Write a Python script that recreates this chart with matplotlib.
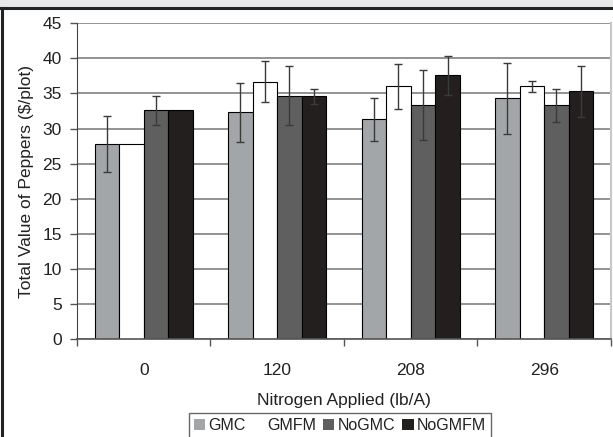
import numpy as np
import matplotlib
matplotlib.use("Agg")
import matplotlib.pyplot as plt
from matplotlib.patches import Rectangle
from matplotlib.lines import Line2D

categories = ["0", "120", "208", "296"]
series = ["GMC", "GMFM", "NoGMC", "NoGMFM"]
gmc = [27.8, 32.3, 31.3, 34.3]
gmc_err = [4.0, 4.15, 3.1, 5.1]
gmfm = [27.8, 36.7, 36.0, 36.0]
gmfm_err = [0.0, 2.9, 3.2, 0.8]
nogmc = [32.6, 34.7, 33.3, 33.3]
nogmc_err = [2.05, 4.25, 5.0, 2.3]
nogmfm = [32.6, 34.6, 37.6, 35.3]
nogmfm_err = [0.0, 1.1, 2.8, 3.6]

colors = ["#a3a6a8", "#ffffff", "#5f5f5f", "#231f1f"]

plt.rcParams['font.family'] = ['Liberation Sans', 'DejaVu Sans']

fig = plt.figure(figsize=(6.13, 4.37), dpi=100)
ax = fig.add_axes([0.1256, 0.2243, 0.871, 0.7224])

values = [gmc, gmfm, nogmc, nogmfm]
errors = [gmc_err, gmfm_err, nogmc_err, nogmfm_err]
x = np.arange(len(categories))
w = 0.184
handles = []
for i, (vals, errs) in enumerate(zip(values, errors)):
    pos = x + (i - 1.5) * w
    errs_plot = [e if e > 0 else np.nan for e in errs]
    ax.bar(pos, vals, w, color=colors[i], edgecolor="black", linewidth=0.8, zorder=2)
    ax.errorbar(pos, vals, yerr=errs_plot, fmt="none", ecolor="#3a3a3a",
                elinewidth=1.0, capsize=3, capthick=1.0, zorder=3)
    handles.append(Rectangle((0, 0), 1, 1, facecolor=colors[i], edgecolor="none"))

ax.set_xlim(-0.5, 3.5)
ax.set_ylim(0, 45)
ax.set_yticks(range(0, 46, 5))
ax.set_xticks(x)
ax.set_xticklabels(categories)
ax.set_xticks(np.arange(-0.5, 4.0, 1.0), minor=True)
ax.tick_params(axis="x", which="major", length=0, pad=17, labelsize=12.5, colors="#222222")
ax.tick_params(axis="x", which="minor", length=5, width=1, color="#555555")
ax.tick_params(axis="y", length=5, width=1, pad=6, color="#555555", labelsize=12.5,
               labelcolor="#222222")
ax.yaxis.grid(True, color="#808080", linewidth=1.2, zorder=0)
ax.set_axisbelow(True)
ax.spines["top"].set_visible(False)
ax.spines["right"].set_color("#c8c8c8")
ax.spines["right"].set_linewidth(1.5)
ax.spines["left"].set_color("#444444")
ax.spines["bottom"].set_color("#555555")
ax.spines["bottom"].set_linewidth(1.2)

ax.set_xlabel("Nitrogen Applied (lb/A)", fontsize=12.5, color="#222222", labelpad=11)
ax.set_ylabel("Total Value of Peppers ($/plot)", fontsize=12.5, color="#222222", labelpad=6)

leg = fig.legend(handles, series, loc="upper left", bbox_to_anchor=(189 / 613, 1 - 413 / 437),
                 ncol=4, fontsize=11.5, frameon=True, fancybox=False,
                 handlelength=0.7, handleheight=0.7, handletextpad=0.2, columnspacing=0.45,
                 borderpad=0.3, borderaxespad=0)
leg.get_frame().set_edgecolor("#444444")
leg.get_frame().set_linewidth(1.0)
for t in leg.get_texts():
    t.set_color("#222222")

# outer frame
fig.add_artist(Rectangle((0, 1 - 7 / 437), 1, 7 / 437, transform=fig.transFigure,
                         facecolor="#e6e7e8", edgecolor="none"))
fig.add_artist(Line2D([0, 1], [1 - 8 / 437, 1 - 8 / 437], transform=fig.transFigure,
                      color="#222222", linewidth=2.2))
fig.add_artist(Line2D([2 / 613, 2 / 613], [0, 1 - 8 / 437], transform=fig.transFigure,
                      color="#222222", linewidth=2.2))

fig.savefig("out.png", dpi=100)
